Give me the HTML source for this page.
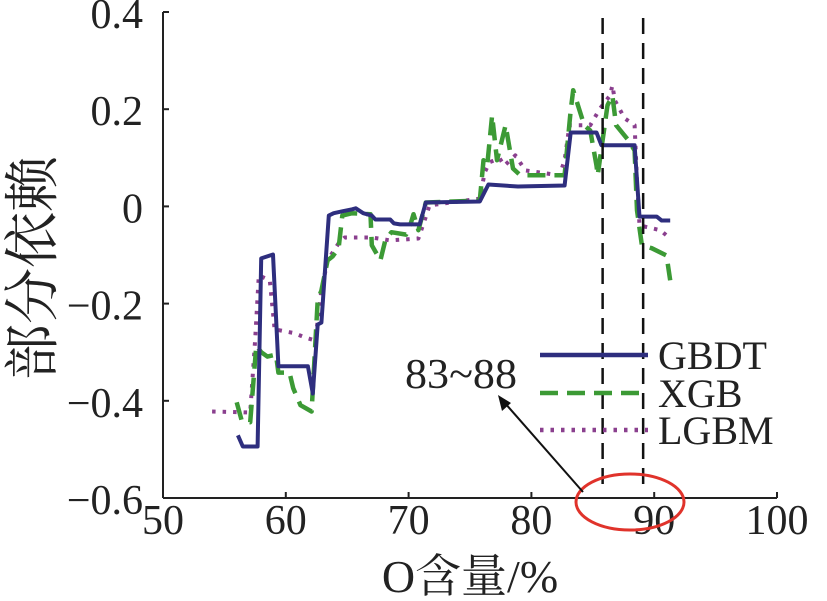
<!DOCTYPE html>
<html><head><meta charset="utf-8"><style>
body{margin:0;background:#fff;}
svg{display:block;font-family:"Liberation Serif","Noto Serif CJK SC",serif;}
</style></head><body>
<svg id="chart" width="827" height="601" viewBox="0 0 827 601" xmlns="http://www.w3.org/2000/svg">
<g id="axes"></g>
<g id="series"></g>
<g id="annot"></g>
</svg>
<script>
const xTicks=[50,60,70,80,90,100];
const yTicks=[0.4,0.2,0,-0.2,-0.4,-0.6];
const yTickLabels=["0.4","0.2","0","\u22120.2","\u22120.4","\u22120.6"];
const gbdtX=[56.1,56.5,57.7,58.0,58.96,59.4,61.8,62.2,62.6,62.9,63.5,63.9,64.6,65.4,65.7,66.3,67.0,67.3,68.5,68.8,69.3,70.9,71.4,75.8,76.5,78.9,82.7,83.2,85.3,85.7,88.4,88.8,90.2,90.6,91.3];
const gbdtY=[-0.471,-0.494,-0.494,-0.107,-0.099,-0.329,-0.329,-0.385,-0.243,-0.239,-0.019,-0.014,-0.010,-0.006,-0.004,-0.014,-0.019,-0.027,-0.027,-0.035,-0.037,-0.037,0.008,0.010,0.045,0.041,0.043,0.152,0.152,0.126,0.126,-0.021,-0.021,-0.029,-0.029];
const xgbX=[56.0,56.4,57.1,57.6,58.0,58.5,59.2,59.4,60.3,60.6,61.2,62.1,62.6,62.9,63.4,63.8,64.3,64.6,65.4,66.9,67.0,67.7,68.1,68.6,69.8,70.2,70.4,70.8,71.4,75.8,76.1,76.4,76.8,77.2,77.9,78.5,79.1,82.7,83.2,83.4,84.3,84.8,85.3,85.4,86.2,86.6,86.9,87.9,88.4,88.6,89.0,89.8,91.0,91.3];
const xgbY=[-0.403,-0.440,-0.444,-0.286,-0.300,-0.309,-0.305,-0.342,-0.342,-0.374,-0.409,-0.422,-0.193,-0.173,-0.111,-0.103,-0.086,-0.019,-0.014,-0.016,-0.080,-0.111,-0.070,-0.053,-0.058,-0.033,-0.016,-0.049,0.008,0.012,0.095,0.084,0.187,0.095,0.167,0.078,0.064,0.064,0.198,0.239,0.167,0.156,0.084,0.064,0.208,0.228,0.167,0.136,0.115,-0.008,-0.080,-0.086,-0.101,-0.152];
const lgbmX=[54.0,57.1,57.5,57.8,58.7,59.1,59.5,60.7,61.6,62.4,62.9,63.4,64.3,64.8,67.0,68.5,70.8,71.3,71.7,75.8,76.2,76.6,77.4,77.8,78.7,79.5,82.3,82.7,83.1,84.8,85.6,86.4,86.6,86.8,87.6,88.4,88.6,88.8,90.5,91.3];
const lgbmY=[-0.422,-0.424,-0.276,-0.142,-0.152,-0.255,-0.255,-0.261,-0.270,-0.276,-0.173,-0.111,-0.076,-0.064,-0.064,-0.070,-0.066,-0.029,0.002,0.016,0.070,0.091,0.099,0.084,0.105,0.074,0.064,0.095,0.167,0.167,0.202,0.228,0.249,0.218,0.181,0.167,0.053,-0.039,-0.049,-0.066];
const refLines=[85.8,89.1];

const NS="http://www.w3.org/2000/svg";
const X0=163,X1=777,Y0=498,Y1=12;
const sx=v=>X0+(v-50)/50*(X1-X0);
const sy=v=>Y0-(v+0.6)/1.0*(Y0-Y1);
function mk(tag,attrs,parent){const e=document.createElementNS(NS,tag);for(const k in attrs)e.setAttribute(k,attrs[k]);parent.appendChild(e);return e;}
const axes=document.getElementById('axes'),ser=document.getElementById('series'),ann=document.getElementById('annot');

let l=mk('line',{x1:X0,y1:Y1,x2:X0,y2:Y0,stroke:'#222','stroke-width':2},axes);


l=mk('line',{x1:X0,y1:Y0,x2:X1,y2:Y0,stroke:'#222','stroke-width':2},axes);


xTicks.forEach(v=>{
  const t=mk('line',{x1:sx(v),y1:Y0,x2:sx(v),y2:Y0-6,stroke:'#222','stroke-width':2},axes);
  
  
  const tx=mk('text',{x:sx(v),y:Y0+36,'font-size':42,'text-anchor':'middle',fill:'#222'},axes);
  tx.textContent=String(v);
  
  
});
yTicks.forEach((v,i)=>{
  const t=mk('line',{x1:X0,y1:sy(v),x2:X0+6,y2:sy(v),stroke:'#222','stroke-width':2},axes);
  
  
  const tx=mk('text',{x:X0-20,y:sy(v)+16,'font-size':42,'text-anchor':'end',fill:'#222'},axes);
  tx.textContent=yTickLabels[i];
  
  
});
let tt=mk('text',{x:470,y:592,'font-size':46,'text-anchor':'middle',fill:'#222'},axes);
tt.textContent='O含量/%';


tt=mk('text',{x:0,y:0,'font-size':56,'text-anchor':'middle',fill:'#222',transform:'translate(52,268) rotate(-90)'},axes);
tt.textContent='部分依赖';



refLines.forEach(v=>{
  const r=mk('line',{x1:sx(v),y1:18,x2:sx(v),y2:490,stroke:'#111','stroke-width':2.5,'stroke-dasharray':'16,9'},ann);
  
  
});

function path(xs,ys,color,dash,w,name){
  const d=xs.map((x,i)=>(i?'L':'M')+sx(x).toFixed(1)+','+sy(ys[i]).toFixed(1)).join('');
  const p=mk('path',{d:d,fill:'none',stroke:color,'stroke-width':w,'stroke-dasharray':dash,'stroke-linejoin':'round'},ser);
  
  
}
path(lgbmX,lgbmY,'#8a3f8e','3.5,7',4,'lgbm-line');
path(xgbX,xgbY,'#3c9a35','18,9',4.5,'xgb-line');
path(gbdtX,gbdtY,'#2e2e7e','none',4,'gbdt-line');

const leg=[['GBDT','#2e2e7e','none',355],['XGB','#3c9a35','18,9',393],['LGBM','#8a3f8e','3.5,7',430]];
leg.forEach(e=>{
  const g=mk('g',{},ann);
  
  
  mk('line',{x1:540,y1:e[3],x2:648,y2:e[3],stroke:e[1],'stroke-width':4.5,'stroke-dasharray':e[2]},g);
  const t=mk('text',{x:658,y:e[3]+14,'font-size':40,fill:'#222'},g);
  t.textContent=e[0];
});

const el=mk('ellipse',{cx:630,cy:502,rx:54,ry:28,fill:'none',stroke:'#e0332b','stroke-width':3},ann);


const ar=mk('line',{x1:583,y1:492,x2:504,y2:402,stroke:'#111','stroke-width':2},ann);


const ah=mk('polygon',{points:'498,395 502,411 511,403',fill:'#111'},ann);


const at=mk('text',{x:405,y:388,'font-size':42,fill:'#222',textLength:112,lengthAdjust:'spacingAndGlyphs'},ann);
at.textContent='83~88';


</script>
</body></html>
